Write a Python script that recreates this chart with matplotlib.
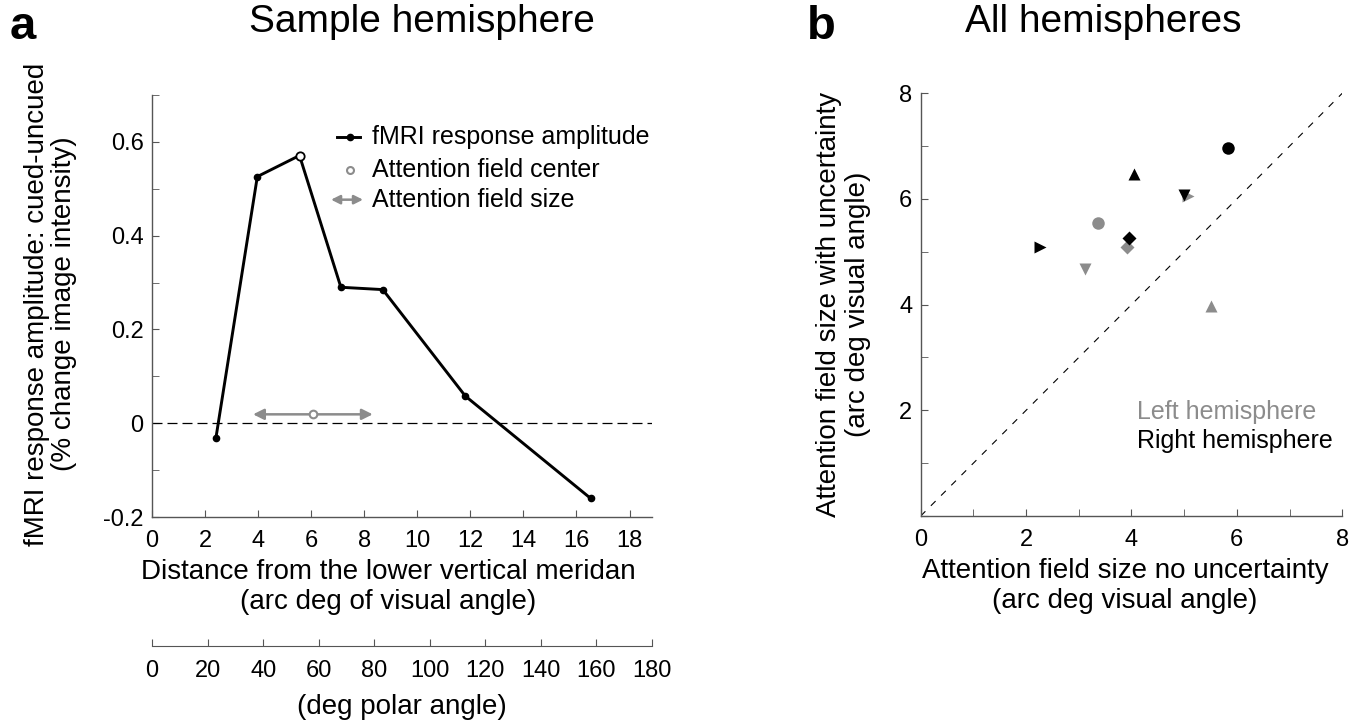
import numpy as np
import matplotlib
matplotlib.use("Agg")
import matplotlib.pyplot as plt
from matplotlib.ticker import MultipleLocator

plt.rcParams['font.family'] = ['Liberation Sans', 'DejaVu Sans']
plt.rcParams['font.size'] = 17

# panel a: sample hemisphere
dist = [2.41, 3.97, 5.56, 7.12, 8.70, 11.81, 16.53]
amp = [-0.031, 0.526, 0.571, 0.290, 0.285, 0.058, -0.160]
peak_idx = 2
af_center = 6.06
af_y = 0.019
af_lo, af_hi = 3.81, 8.32
x_max = 18.85  # 180 deg polar angle
polar_ticks = [0, 20, 40, 60, 80, 100, 120, 140, 160, 180]

# panel b: all hemispheres
markers = ['o', '^', 'v', 'D', '>']
left_x = [3.36, 5.51, 3.12, 3.92, 5.08]
left_y = [5.54, 3.98, 4.68, 5.10, 6.06]
right_x = [5.83, 4.05, 4.99, 3.95, 2.26]
right_y = [6.97, 6.47, 6.08, 5.27, 5.10]

gray = '#8c8c8c'
spine_col = '#555555'

fig = plt.figure(figsize=(13.67, 7.22), dpi=100)

# ---- panel a ----
ax = fig.add_axes([0.1112, 0.2839, 0.3658, 0.5845])
ax.axhline(0, color='k', lw=0.9, dashes=(8, 4))
ax.plot(dist, amp, color='k', lw=2.1, marker='o', ms=4.5, zorder=3)
ax.plot(dist[peak_idx], amp[peak_idx], 'o', ms=6, mfc='white', mec='k', mew=1.3, zorder=4)
ax.annotate('', xy=(af_lo, af_y), xytext=(af_hi, af_y),
            arrowprops=dict(arrowstyle='<|-|>', color=gray, lw=1.8,
                            mutation_scale=16, shrinkA=0, shrinkB=0))
ax.plot(af_center, af_y, 'o', ms=5.5, mfc='white', mec=gray, mew=1.5, zorder=4)

ax.set_xlim(0, x_max)
ax.set_ylim(-0.2, 0.7)
ax.xaxis.set_major_locator(MultipleLocator(2))
ax.yaxis.set_minor_locator(MultipleLocator(0.1))
ax.set_yticks([-0.2, 0, 0.2, 0.4, 0.6])
ax.set_yticklabels(['-0.2', '0', '0.2', '0.4', '0.6'])
for s in ['top', 'right']:
    ax.spines[s].set_visible(False)
for s in ['left', 'bottom']:
    ax.spines[s].set_color(spine_col)
    ax.spines[s].set_linewidth(1.0)
ax.tick_params(direction='in', which='both', color=spine_col, length=5, pad=6)
ax.tick_params(axis='x', pad=9)
ax.set_xlabel('Distance from the lower vertical meridan\n(arc deg of visual angle)',
              fontsize=20, linespacing=1.2)
ax.xaxis.set_label_coords(0.472, -0.1)
ax.xaxis.label.set_va('top')
ax.set_ylabel('fMRI response amplitude: cued-uncued\n(% change image intensity)',
              fontsize=20, linespacing=1.05)
ax.yaxis.set_label_coords(-0.15, 0.505)

sec = ax.secondary_xaxis(-0.305, functions=(lambda x: x * 180 / x_max,
                                             lambda d: d * x_max / 180))
sec.set_xticks(polar_ticks)
sec.spines['bottom'].set_color(spine_col)
sec.tick_params(direction='in', color=spine_col, length=5, pad=10)
sec.set_xlabel('(deg polar angle)', fontsize=20, labelpad=9)

# legend (drawn by hand)
lx, ltx = 0.395, 0.44
ly = [0.90, 0.822, 0.752]
ax.plot([lx - 0.025, lx + 0.02], [ly[0], ly[0]], color='k', lw=2.1, transform=ax.transAxes)
ax.plot(lx, ly[0], 'o', color='k', ms=4.5, transform=ax.transAxes)
ax.plot(lx, ly[1], 'o', ms=5, mfc='white', mec=gray, mew=1.5, transform=ax.transAxes)
ax.annotate('', xy=(lx - 0.037, ly[2]), xytext=(lx + 0.027, ly[2]),
            xycoords='axes fraction', textcoords='axes fraction',
            arrowprops=dict(arrowstyle='<|-|>', color=gray, lw=1.8,
                            mutation_scale=13, shrinkA=0, shrinkB=0))
for yy, t in zip(ly, ['fMRI response amplitude', 'Attention field center',
                      'Attention field size']):
    ax.text(ltx, yy, t, transform=ax.transAxes, va='center', ha='left', fontsize=18)

# ---- panel b ----
bx = fig.add_axes([0.6735, 0.2853, 0.3084, 0.5855])
bx.plot([0, 8], [0, 8], color='k', lw=0.8, dashes=(6, 7))
for m, x, y in zip(markers, left_x, left_y):
    bx.plot(x, y, m, color=gray, ms=9 if m != 'D' else 7, mec='none')
for m, x, y in zip(markers, right_x, right_y):
    bx.plot(x, y, m, color='k', ms=9 if m != 'D' else 7, mec='none')
bx.set_xlim(0, 8)
bx.set_ylim(0, 8)
bx.xaxis.set_major_locator(MultipleLocator(2))
bx.xaxis.set_minor_locator(MultipleLocator(1))
bx.yaxis.set_minor_locator(MultipleLocator(1))
bx.set_yticks([0, 2, 4, 6, 8])
bx.set_yticklabels(['', '2', '4', '6', '8'])
for s in ['top', 'right']:
    bx.spines[s].set_visible(False)
for s in ['left', 'bottom']:
    bx.spines[s].set_color(spine_col)
    bx.spines[s].set_linewidth(1.0)
bx.tick_params(direction='in', which='both', color=spine_col, length=5, pad=6)
bx.tick_params(axis='x', pad=9)
bx.set_xlabel('Attention field size no uncertainty\n(arc deg visual angle)',
              fontsize=20, linespacing=1.2)
bx.xaxis.set_label_coords(0.485, -0.1)
bx.xaxis.label.set_va('top')
bx.set_ylabel('Attention field size with uncertainty\n(arc deg visual angle)',
              fontsize=20, linespacing=1.15)
bx.yaxis.set_label_coords(-0.118, 0.5)
bx.text(0.512, 0.245, 'Left hemisphere', color=gray, transform=bx.transAxes,
        fontsize=18, va='center', ha='left')
bx.text(0.512, 0.178, 'Right hemisphere', color='k', transform=bx.transAxes,
        fontsize=18, va='center', ha='left')

# titles and panel letters
fig.text(0.309, 0.969, 'Sample hemisphere', fontsize=28, ha='center', va='center')
fig.text(0.8072, 0.969, 'All hemispheres', fontsize=28, ha='center', va='center')
fig.text(0.0165, 0.963, 'a', fontsize=34, fontweight='bold', ha='center', va='center')
fig.text(0.601, 0.963, 'b', fontsize=34, fontweight='bold', ha='center', va='center')

fig.savefig('out.png', dpi=100)
